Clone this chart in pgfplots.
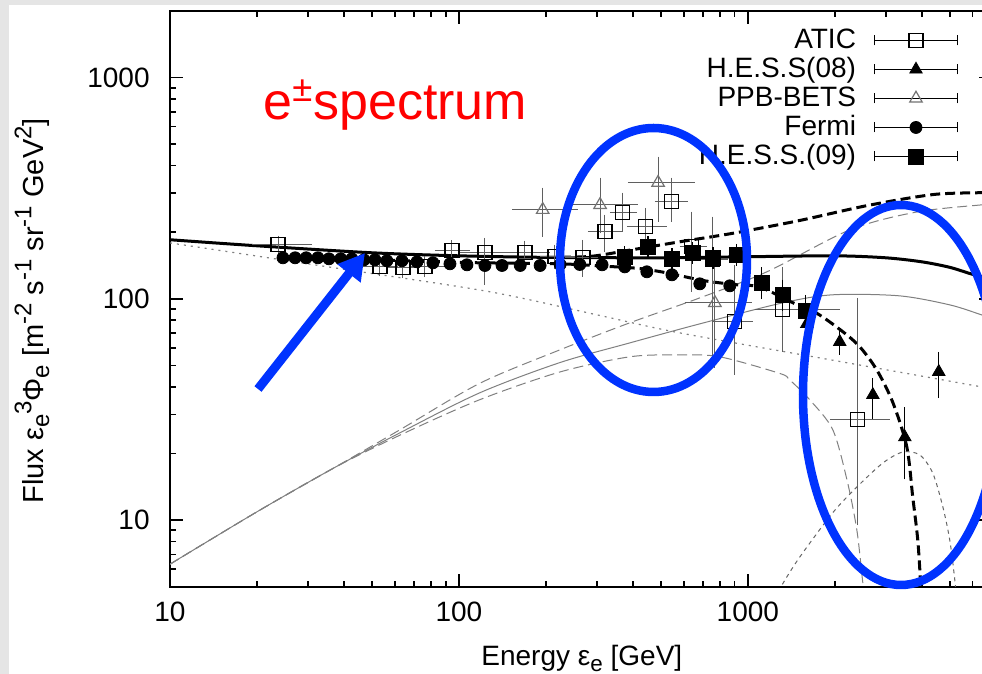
\documentclass[border=0pt]{standalone}
\usepackage{fontspec}
\setmainfont{Liberation Sans}
\usepackage{pgfplots}
\pgfplotsset{compat=1.18}
\usepackage{pgfplotstable}
\usetikzlibrary{arrows.meta}

\definecolor{annblue}{RGB}{0,51,255}
\definecolor{bargray}{RGB}{95,95,95}
\newcommand{\fs}[1]{\fontsize{#1}{1.2\dimexpr #1\relax}\selectfont}
% raised and lowered indices in the label font
\newcommand{\up}[1]{\raisebox{5.5pt}{\fs{11.2pt}#1}}
\newcommand{\dn}[1]{\raisebox{-2.8pt}{\fs{11.2pt}#1}}
\newcommand{\upy}[1]{\raisebox{5.8pt}{\fs{12pt}#1}}
\newcommand{\dny}[1]{\raisebox{-3pt}{\fs{12pt}#1}}

% legend sample: horizontal error bar with caps and the marker in the middle
\pgfplotsset{errleg/.style={legend image code/.code={
  \begin{scope}[yshift=1pt]
  \draw[black, line width=0.5pt] (0pt,0pt) -- (41.5pt,0pt)
    (0pt,-2.5pt) -- (0pt,2.5pt) (41.5pt,-2.5pt) -- (41.5pt,2.5pt);
  \draw[##1] plot coordinates {(20.75pt,0pt)};
  \end{scope}
}}}

% ATIC
\pgfplotstableread{
E F Elo Ehi Flo Fhi
23.65 175.5 20.0 29.8 168 183
53.3 139.6 48.1 59.1 133 146
64.0 138.1 59.1 70.4 131 146
76.3 139.6 70.4 86.0 132 148
94.6 164.9 86.0 104.9 155 175
123.0 161.5 104.9 144.3 122 179
169.2 161.5 144.3 198.4 150 174
214.9 154.9 198.4 242.2 144 167
268.6 153.3 242.2 290.9 132.5 175.5
320.1 201.0 290.9 352.2 171.9 227.8
369.4 244.9 346.6 396.8 211.7 286.4
443.7 211.7 396.8 504.1 181.1 244.9
545.8 274.8 496.2 595.7 235.0 334.9
640.0 171.9 605.3 693.2 113.3 235.0
756.9 150.1 698.8 819.6 51.3 223.1
901.6 78.7 787.6 1000 47.7 135.3
1321.5 89.2 1100 2000 60.6 132.5
2403 28.4 2000 2979 10.0 95.9
}\atic

% H.E.S.S. 2008
\pgfplotstableread{
E F Flo Fhi
1600 77.1 71 84
2080 63.9 58.8 68.7
2708 36.8 30.2 41.7
3494 23.7 16.1 30.8
4579 46.8 37.5 54.7
}\hessA

% PPB-BETS
\pgfplotstableread{
E F Elo Ehi Flo Fhi
195 252.6 159 248 201 302
308 266 248 399 209 335
489 335 400 630 235 417
769 95.9 630 993 51.3 145.5
}\ppb

% Fermi
\pgfplotstableread{
E F
24.6 153.3
27.1 153.3
29.6 153.3
32.5 153.3
35.5 151.7
39.0 151.7
42.6 151.7
46.9 150.1
51.2 150.1
56.3 148.6
63.5 148.6
71.6 147.0
81.3 145.5
93.1 144.0
106.6 142.5
123 141.5
141 141.5
163 141.5
191 141.5
224 143.0
262 143.0
313 142.5
375 139.5
447 132.5
546 128.4
682 116.9
866 114.5
}\fermi

% H.E.S.S. 2009
\pgfplotstableread{
E F Flo Fhi
375 154.9 146 164
451 171.9 162 182
546 151.7 143 161
645 161.6 152 171
757 153.3 144 163
916 158.1 149 168
1117 118.1 105 132
1321 104.3 93 116
1588 88.2 78 99
}\hessB

\begin{document}
\begin{tikzpicture}
% page background (1 unit = 1 pixel of the layout grid)
\begin{scope}[x=0.5pt, y=-0.5pt, shift={(-170,-586.7)}]
  \fill[black!10] (0,0) rectangle (982,674);
  \fill[white] (9,5) rectangle (982,674);
\end{scope}

\begin{axis}[
  at={(0pt,0pt)}, anchor=south west,
  scale only axis, width=411pt, height=287.85pt,
  xmode=log, ymode=log,
  xmin=10, xmax=7000, ymin=5, ymax=2000,
  xtick={10,100,1000}, xticklabels={10,100,1000},
  ytick={10,100,1000}, yticklabels={10,100,1000},
  minor xtick={20,30,40,50,60,70,80,90,200,300,400,500,600,700,800,900,2000,3000,4000,5000,6000,7000},
  minor ytick={5,6,7,8,9,20,30,40,50,60,70,80,90,200,300,400,500,600,700,800,900,2000},
  tick align=inside,
  major tick length=6.5pt, minor tick length=3pt,
  every tick/.style={black, line width=0.8pt},
  axis line style={black, line width=1pt},
  ticklabel style={font=\fs{14pt}},
  xticklabel style={inner sep=0pt, yshift=-7.65pt},
  yticklabel style={inner sep=0pt, xshift=-10pt},
  xlabel={Energy ε\dn{e} [GeV]},
  ylabel={Flux ε\dny{e}\upy{3}Φ\dny{e} [m\upy{-2} s\upy{-1} sr\upy{-1} GeV\upy{2}]},
  xlabel style={font=\fs{14pt}, at={(axis description cs:0.501,-0.1377)}, anchor=base, inner sep=0pt},
  ylabel style={font=\fs{14.5pt}, at={(axis description cs:-0.1545,0.479)}, anchor=base, inner sep=0pt},
  legend style={draw=none, fill=none, at={(axis description cs:0.9586,0.9705)},
    anchor=north east, font=\fs{14pt}, inner sep=0pt, outer sep=0pt,
    row sep=0pt, column sep=9pt,
    nodes={inner sep=0pt, text height=10.5pt, text depth=4pt}},
  legend cell align=right,
  legend plot pos=right,
]

% background power law
\addplot[forget plot, black!50, line width=0.6pt, dash pattern=on 1pt off 2.5pt, smooth] coordinates {
(10,179) (40,136) (128,107.6) (300,84.7) (580,70.2) (2000,52.6) (6450,40) (7000,39.3)};

% source components
\addplot[forget plot, black!50, line width=0.5pt, smooth] coordinates {
(10,6.32) (20,10.9) (36.6,17.1) (62.5,24.8) (118,37.6) (223.5,51.5) (390,63.2) (682,77.1)
(1320,95.9) (1968,104.3) (3340,103.2) (5000,93.9) (6450,84.6) (7000,82)};
\addplot[forget plot, black!50, line width=0.5pt, dash pattern=on 5pt off 2.5pt, smooth] coordinates {
(10,6.32) (20,10.9) (36.6,17.1) (62.5,25.6) (118,41.5) (223.5,58.8) (390,77.9) (682,101)
(1164,132.5) (2254,205) (3846,247) (6450,266) (7000,268)};
\addplot[forget plot, black!50, line width=0.5pt, dash pattern=on 5pt off 2.5pt, smooth] coordinates {
(10,6.32) (20,10.9) (36.6,17.1) (62.5,24.2) (118,35.0) (223.5,46.7) (390,54.7) (580,55.8)
(800,54.7) (1290,46) (1396,43) (1640,34.9) (1968,25.6) (2203,15.2) (2384,9) (2500,5.2) (2550,4.4)};
\addplot[forget plot, black!60, line width=0.5pt, dash pattern=on 2pt off 2pt, smooth] coordinates {
(1250,4.4) (1312,5.08) (1514,6.82) (1968,10.8) (2384,14.1) (2930,18.1) (3436,20.3)
(3936,19.7) (4365,16.3) (4728,11.5) (5000,8.1) (5200,5.4) (5260,4.4)};

% total spectra
\addplot[forget plot, black, line width=1.5pt, smooth] coordinates {
(10,185) (20,173.7) (50,161.5) (100,156.5) (200,154) (500,153.3) (1000,155)
(2000,156.5) (3000,153.3) (4000,147) (5000,138.8) (6000,129) (7000,123)};
\addplot[forget plot, black, line width=1.5pt, dash pattern=on 5pt off 2.5pt, smooth] coordinates {
(200,154) (284,155.5) (390,166) (580,181) (890,198) (1510,226) (2590,264) (4370,296)
(6450,302) (7000,303)};
\addplot[forget plot, black, line width=1.5pt, dash pattern=on 5pt off 2.5pt, smooth, tension=0.5] coordinates {
(24,152) (50,150) (80,147.5) (118,145.5) (223,144) (333,140) (424,137) (525,131)
(700,121) (900,116) (1100,113) (1432,96) (1734,86) (2133,71) (2443,60.6) (2795,47.7)
(3176,34) (3550,21.4) (3722,12.7) (3875,8.1) (3970,5.0) (3990,4.5)};

% measurements
\addplot[only marks, mark=square, mark size=3.5pt, black, line width=0.6pt, errleg,
  error bars/.cd, x dir=both, x explicit, y dir=both, y explicit,
  error bar style={line width=0.5pt, bargray},
  error mark options={bargray, mark size=2.5pt, line width=0.5pt}]
  table[x=E, y=F,
    x error plus expr=\thisrow{Ehi}-\thisrow{E}, x error minus expr=\thisrow{E}-\thisrow{Elo},
    y error plus expr=\thisrow{Fhi}-\thisrow{F}, y error minus expr=\thisrow{F}-\thisrow{Flo}] {\atic};
\addlegendentry{ATIC}

\addplot[only marks, mark=triangle*, mark size=3.6pt, black, errleg,
  error bars/.cd, y dir=both, y explicit,
  error bar style={line width=0.6pt, black},
  error mark options={black, mark size=2.5pt, line width=0.6pt}]
  table[x=E, y=F,
    y error plus expr=\thisrow{Fhi}-\thisrow{F}, y error minus expr=\thisrow{F}-\thisrow{Flo}] {\hessA};
\addlegendentry{H.E.S.S(08)}

\addplot[only marks, mark=triangle, mark size=3.6pt, black!55, line width=0.6pt, errleg,
  error bars/.cd, x dir=both, x explicit, y dir=both, y explicit,
  error bar style={line width=0.5pt, bargray},
  error mark options={bargray, mark size=2.5pt, line width=0.5pt}]
  table[x=E, y=F,
    x error plus expr=\thisrow{Ehi}-\thisrow{E}, x error minus expr=\thisrow{E}-\thisrow{Elo},
    y error plus expr=\thisrow{Fhi}-\thisrow{F}, y error minus expr=\thisrow{F}-\thisrow{Flo}] {\ppb};
\addlegendentry{PPB-BETS}

\addplot[only marks, mark=*, mark size=3pt, black, errleg] table[x=E, y=F] {\fermi};
\addlegendentry{Fermi}

\addplot[only marks, mark=square*, mark size=3.75pt, black, errleg,
  error bars/.cd, y dir=both, y explicit,
  error bar style={line width=0.6pt, black},
  error mark options={black, mark size=2.5pt, line width=0.6pt}]
  table[x=E, y=F,
    y error plus expr=\thisrow{Fhi}-\thisrow{F}, y error minus expr=\thisrow{F}-\thisrow{Flo}] {\hessB};
\addlegendentry{H.E.S.S.(09)}
\end{axis}

% annotations and page crop (same pixel grid as the background)
\begin{scope}[x=0.5pt, y=-0.5pt, shift={(-170,-586.7)}]
  \node[anchor=base west, inner sep=0pt, text=red, font=\fs{26pt}] at (263,120) {e\textsuperscript{±}spectrum};
  \draw[annblue, line width=4.5pt, -{Triangle[length=13pt,width=14pt]}] (258,389) -- (365,253);
  \draw[annblue, line width=4.25pt] (653.5,260) ellipse [x radius=93.5, y radius=132];
  \draw[annblue, line width=4.25pt] (901,395) ellipse [x radius=98, y radius=190];
  \pgfresetboundingbox
  \path[use as bounding box] (0,0) rectangle (982,674);
\end{scope}
\end{tikzpicture}
\end{document}
